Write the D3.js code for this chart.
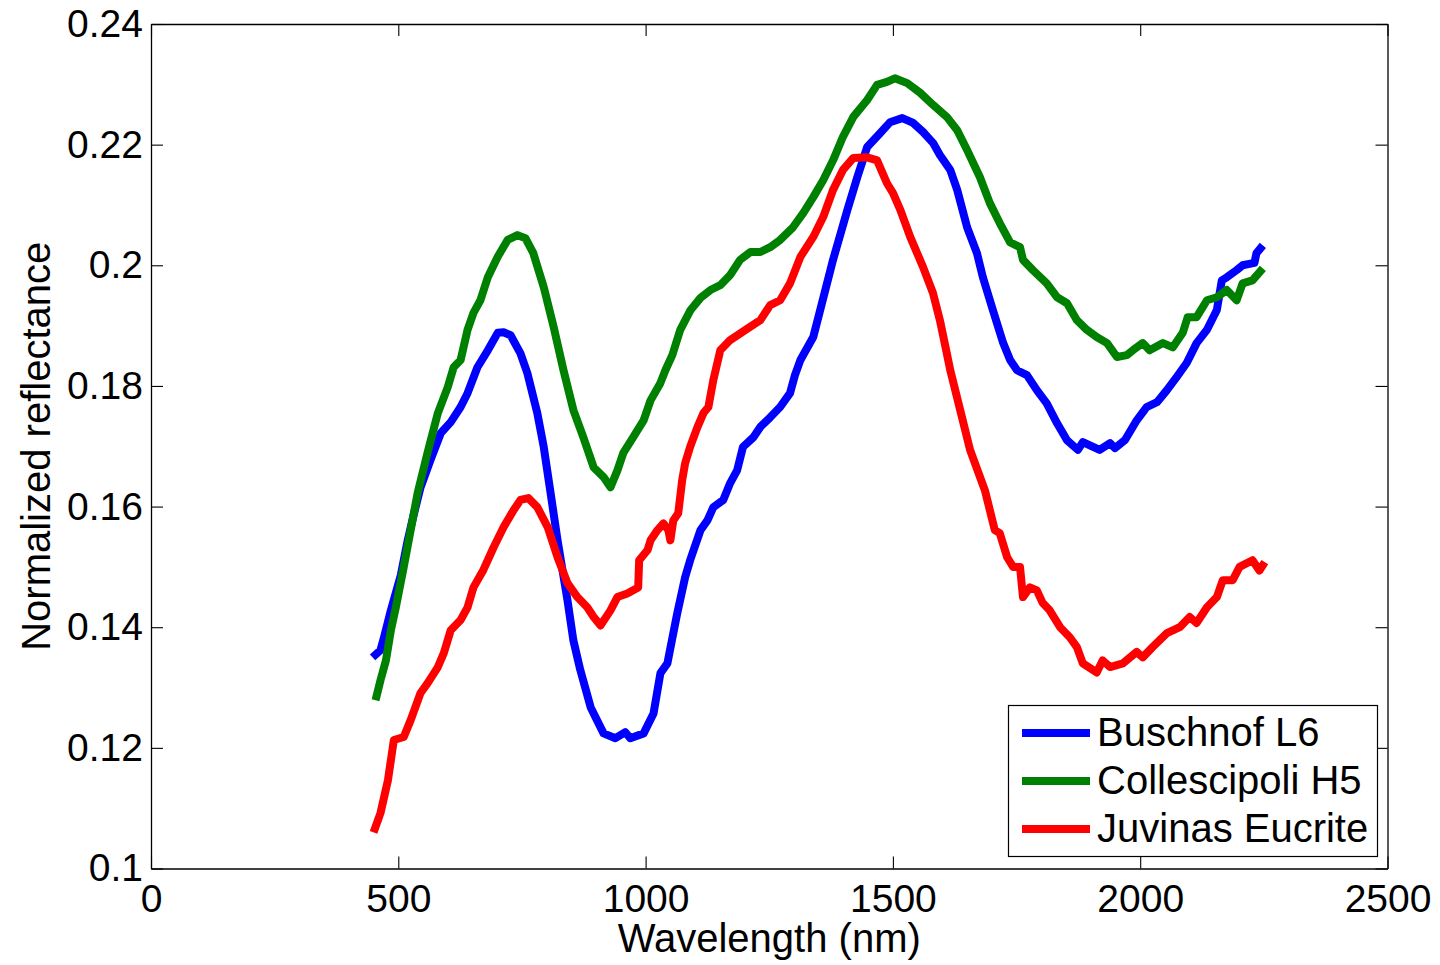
<!DOCTYPE html>
<html>
<head>
<meta charset="utf-8">
<script src="https://cdn.jsdelivr.net/npm/d3@7"></script>
<style>
  html, body { margin: 0; padding: 0; background: #fff; }
  svg { display: block; }
  text { font-family: "Liberation Sans", Arial, Helvetica, sans-serif; fill: #000; }
</style>
</head>
<body>
<svg id="chart" width="1440" height="965"></svg>
<script>
// Reflectance spectra (wavelength in nm, normalized reflectance)
const buschnofNm = [448,464,471,485,505,519,531,545,565,586,606,626,640,660,681,701,713,727,747,761,781,794,808,822,842,854,868,889,915,939,959,969,996,1016,1030,1044,1056,1064,1080,1090,1111,1125,1137,1157,1171,1185,1197,1218,1232,1252,1272,1292,1302,1313,1339,1353,1379,1408,1428,1448,1474,1494,1519,1541,1561,1581,1595,1616,1630,1650,1670,1682,1702,1723,1737,1751,1771,1791,1811,1832,1852,1874,1884,1918,1939,1949,1969,1993,2013,2034,2054,2074,2094,2114,2135,2155,2165,2175,2195,2207,2231,2235,2248];
const buschnofR = [0.1350,0.1362,0.1383,0.1428,0.1486,0.1544,0.1586,0.1632,0.1677,0.1722,0.1740,0.1765,0.1788,0.1831,0.1859,0.1888,0.1889,0.1884,0.1854,0.1821,0.1755,0.1699,0.1622,0.1544,0.1445,0.1378,0.1329,0.1267,0.1224,0.1216,0.1226,0.1216,0.1224,0.1257,0.1324,0.1340,0.1390,0.1423,0.1483,0.1511,0.1561,0.1577,0.1599,0.1611,0.1639,0.1660,0.1699,0.1715,0.1732,0.1748,0.1765,0.1788,0.1818,0.1843,0.1881,0.1926,0.2009,0.2092,0.2146,0.2196,0.2219,0.2237,0.2244,0.2236,0.2221,0.2203,0.2183,0.2158,0.2125,0.2063,0.2020,0.1980,0.1926,0.1871,0.1843,0.1826,0.1818,0.1793,0.1771,0.1738,0.1710,0.1694,0.1707,0.1694,0.1705,0.1697,0.1710,0.1743,0.1765,0.1773,0.1793,0.1815,0.1838,0.1871,0.1893,0.1926,0.1975,0.1980,0.1992,0.2000,0.2004,0.2020,0.2033];

const collescipoliNm = [454,464,475,485,495,511,525,539,559,580,600,612,626,640,652,666,681,701,721,741,757,773,794,814,834,854,874,895,915,929,943,955,975,996,1010,1030,1040,1054,1070,1091,1111,1131,1151,1171,1191,1212,1232,1252,1272,1298,1319,1339,1359,1379,1399,1420,1448,1468,1488,1504,1529,1555,1581,1609,1630,1650,1676,1696,1716,1737,1757,1763,1783,1811,1832,1852,1872,1892,1912,1933,1953,1973,1985,2005,2019,2046,2066,2086,2096,2114,2135,2155,2175,2195,2207,2227,2248];
const collescipoliR = [0.1279,0.1312,0.1345,0.1395,0.1433,0.1500,0.1561,0.1622,0.1689,0.1755,0.1798,0.1831,0.1843,0.1893,0.1921,0.1942,0.1980,0.2014,0.2042,0.2050,0.2045,0.2020,0.1964,0.1898,0.1826,0.1760,0.1715,0.1665,0.1649,0.1632,0.1660,0.1689,0.1715,0.1743,0.1776,0.1805,0.1826,0.1851,0.1893,0.1926,0.1946,0.1959,0.1967,0.1984,0.2009,0.2022,0.2022,0.2030,0.2042,0.2063,0.2087,0.2113,0.2141,0.2174,0.2213,0.2246,0.2274,0.2299,0.2304,0.2310,0.2302,0.2286,0.2266,0.2246,0.2224,0.2191,0.2146,0.2103,0.2070,0.2038,0.2030,0.2009,0.1992,0.1970,0.1947,0.1937,0.1909,0.1893,0.1881,0.1871,0.1848,0.1851,0.1859,0.1871,0.1859,0.1871,0.1864,0.1888,0.1914,0.1914,0.1942,0.1947,0.1959,0.1942,0.1970,0.1975,0.1995];

const juvinasNm = [450,464,479,491,511,525,545,559,580,592,606,626,640,652,672,693,713,733,747,763,781,802,822,842,862,882,895,909,929,943,963,985,987,1004,1010,1024,1036,1046,1050,1056,1066,1074,1080,1090,1105,1117,1127,1137,1151,1171,1202,1232,1252,1272,1292,1313,1339,1359,1379,1399,1420,1448,1468,1488,1500,1515,1535,1561,1581,1595,1609,1616,1636,1656,1686,1706,1716,1731,1743,1757,1763,1777,1791,1803,1817,1838,1858,1872,1884,1912,1924,1939,1965,1993,2005,2025,2054,2080,2100,2114,2135,2155,2167,2187,2201,2227,2241,2252];
const juvinasR = [0.1060,0.1092,0.1146,0.1213,0.1218,0.1246,0.1291,0.1307,0.1334,0.1357,0.1395,0.1412,0.1433,0.1466,0.1495,0.1533,0.1566,0.1594,0.1611,0.1614,0.1599,0.1566,0.1516,0.1473,0.1450,0.1433,0.1417,0.1403,0.1428,0.1450,0.1456,0.1466,0.1511,0.1528,0.1544,0.1561,0.1572,0.1561,0.1544,0.1577,0.1589,0.1644,0.1672,0.1699,0.1732,0.1755,0.1765,0.1810,0.1859,0.1876,0.1893,0.1909,0.1934,0.1942,0.1970,0.2014,0.2047,0.2080,0.2125,0.2158,0.2178,0.2179,0.2174,0.2136,0.2120,0.2092,0.2047,0.1997,0.1954,0.1909,0.1854,0.1826,0.1760,0.1694,0.1627,0.1561,0.1556,0.1516,0.1500,0.1500,0.1450,0.1466,0.1461,0.1440,0.1428,0.1400,0.1383,0.1367,0.1340,0.1325,0.1345,0.1334,0.1340,0.1359,0.1350,0.1367,0.1390,0.1400,0.1417,0.1407,0.1433,0.1450,0.1478,0.1478,0.1500,0.1511,0.1494,0.1508];

const seriesNames = ["Buschnof L6", "Collescipoli H5", "Juvinas Eucrite"];
const seriesColors = ["#0000ff", "#008000", "#ff0000"];

// Axis ticks and labels
const xTicks = [0, 500, 1000, 1500, 2000, 2500];
const xTickLabels = ["0", "500", "1000", "1500", "2000", "2500"];
const yTicks = [0.1, 0.12, 0.14, 0.16, 0.18, 0.2, 0.22, 0.24];
const yTickLabels = ["0.1", "0.12", "0.14", "0.16", "0.18", "0.2", "0.22", "0.24"];

const xTitle = "Wavelength (nm)";
const yTitle = "Normalized reflectance";

(function draw() {
  // axes box in page pixels
  const boxLeft = 151, boxRight = 1387.5, boxTop = 24, boxBottom = 868.5;

  const svg = d3.select("#chart");

  const x = d3.scaleLinear().domain([0, 2500]).range([boxLeft, boxRight]);
  const y = d3.scaleLinear().domain([0.1, 0.24]).range([boxBottom, boxTop]);

  const series = [
    { name: seriesNames[0], color: seriesColors[0], nm: buschnofNm, r: buschnofR },
    { name: seriesNames[1], color: seriesColors[1], nm: collescipoliNm, r: collescipoliR },
    { name: seriesNames[2], color: seriesColors[2], nm: juvinasNm, r: juvinasR }
  ];

  // Data lines, clipped to the axes box
  svg.append("clipPath").attr("id", "plotClip")
    .append("rect").attr("x", boxLeft).attr("y", boxTop)
    .attr("width", boxRight - boxLeft).attr("height", boxBottom - boxTop);

  const line = d3.line()
    .x(d => x(d[0]))
    .y(d => y(d[1]));

  svg.append("g").attr("clip-path", "url(#plotClip)")
    .selectAll("path")
    .data(series)
    .join("path")
    .attr("d", s => line(s.nm.map((v, i) => [v, s.r[i]])))
    .attr("fill", "none")
    .attr("stroke", s => s.color)
    .attr("stroke-width", 8)
    .attr("stroke-linejoin", "round")
    .attr("stroke-linecap", "butt");

  // Axes: ticks point inward on all four sides
  const fontTick = 39;
  function styleAxis(g) {
    g.attr("font-family", null).attr("font-size", null);
    g.selectAll(".domain").attr("stroke", "#000").attr("stroke-width", 1.3);
    g.selectAll(".tick line").attr("stroke", "#000").attr("stroke-width", 1.1);
    g.selectAll("text")
      .style("font-size", fontTick + "px")
      .attr("fill", "#000");
  }

  svg.append("g")
    .attr("transform", `translate(0,${boxBottom})`)
    .call(d3.axisBottom(x).tickValues(xTicks)
      .tickFormat((d, i) => xTickLabels[i])
      .tickSizeInner(-12).tickSizeOuter(0).tickPadding(16))
    .call(styleAxis);

  svg.append("g")
    .attr("transform", `translate(0,${boxTop})`)
    .call(d3.axisTop(x).tickValues(xTicks).tickFormat("")
      .tickSizeInner(-12).tickSizeOuter(0))
    .call(styleAxis);

  svg.append("g")
    .attr("transform", `translate(${boxLeft},0)`)
    .call(d3.axisLeft(y).tickValues(yTicks)
      .tickFormat((d, i) => yTickLabels[i])
      .tickSizeInner(-12).tickSizeOuter(0).tickPadding(8))
    .call(styleAxis);

  svg.append("g")
    .attr("transform", `translate(${boxRight},0)`)
    .call(d3.axisRight(y).tickValues(yTicks).tickFormat("")
      .tickSizeInner(-12).tickSizeOuter(0))
    .call(styleAxis);

  // Axis titles
  svg.append("text")
    .attr("x", (boxLeft + boxRight) / 2)
    .attr("y", 952)
    .attr("text-anchor", "middle")
    .style("font-size", "40px")
    .text(xTitle);

  svg.append("text")
    .attr("transform", `translate(50,${(boxTop + boxBottom) / 2}) rotate(-90)`)
    .attr("text-anchor", "middle")
    .style("font-size", "40px")
    .text(yTitle);

  // Legend
  const legend = svg.append("g");
  legend.append("rect")
    .attr("x", 1008.5).attr("y", 705.5)
    .attr("width", 369).attr("height", 151)
    .attr("fill", "#fff")
    .attr("stroke", "#000")
    .attr("stroke-width", 1.2);

  const legendRowY = [733, 781, 829];
  series.forEach((s, i) => {
    legend.append("line")
      .attr("x1", 1022).attr("x2", 1090)
      .attr("y1", legendRowY[i]).attr("y2", legendRowY[i])
      .attr("stroke", s.color)
      .attr("stroke-width", 8);
    legend.append("text")
      .attr("x", 1097)
      .attr("y", legendRowY[i] + 12.5)
      .style("font-size", "40px")
      .text(s.name);
  });
})();
</script>
</body>
</html>
